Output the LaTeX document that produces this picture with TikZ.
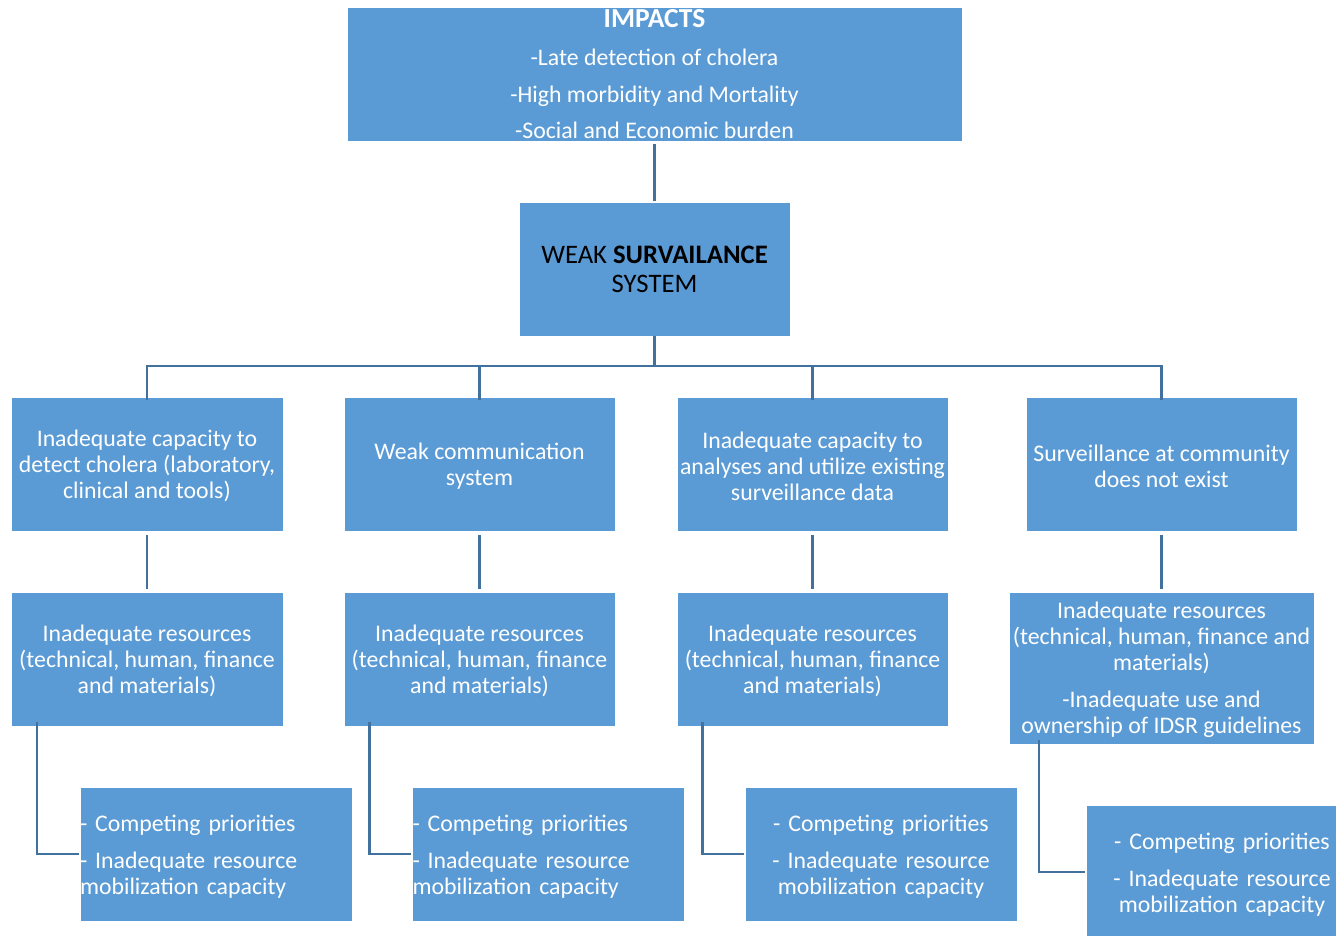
\documentclass[tikz,border=0pt]{standalone}
\usepackage{fontspec}
\setmainfont{Carlito}
\usetikzlibrary{positioning}
\definecolor{boxblue}{HTML}{5B9BD5}
\definecolor{linkblue}{HTML}{41719C}
% tall invisible strut that lowers a text block a little inside its box
\newcommand{\topstrut}{\rule{0pt}{20.5pt}}
\begin{document}
\begin{tikzpicture}[x=1pt,y=-1pt,
  box/.style={fill=boxblue,draw=white,line width=0.8pt,inner sep=0pt,
    text=white,align=center,minimum height=134pt,
    font=\fontsize{23.8}{26}\selectfont},
  lowered/.style={execute at begin node={\rule{0pt}{22pt}}},
  w/.style={minimum width=#1},
  leftbox/.style={box,lowered,text width=272pt,align=left},
  centbox/.style={box,lowered,text width=272pt,align=center},
  link/.style={draw=linkblue,line width=2.2pt},
]
\useasboundingbox (0,0) rectangle (1336,936);
\clip (0,0) rectangle (1336,936);

% top: impacts and core problem
\node[box,w=615pt] (imp) at (654.5,74)
  {{\fontsize{27.5}{26}\selectfont\textbf{IMPACTS}}\\[12pt]-Late detection of cholera\\[11pt]-High morbidity and Mortality\\[10.5pt]-Social and Economic burden};
\node[box,w=271pt,text=black,font=\fontsize{26.7}{29}\selectfont] (weak) at (654.5,269)
  {WEAK \textbf{SURVAILANCE}\\SYSTEM};

% second row: causes
\node[box,w=272pt] (c1) at (147,464) {\topstrut Inadequate capacity to\\detect cholera (laboratory,\\clinical and tools)};
\node[box,w=271pt] (c2) at (479.5,464) {\topstrut Weak communication\\system};
\node[box,w=271pt] (c3) at (812.5,464) {\topstrut Inadequate capacity to\\analyses and utilize existing\\surveillance data};
\node[box,w=271pt] (c4) at (1161.5,464) {\topstrut Surveillance at community\\does not exist};

% third row: resources
\node[box,w=272pt] (r1) at (147,659) {\topstrut Inadequate resources\\(technical, human, finance\\and materials)};
\node[box,w=271pt] (r2) at (479.5,659) {\topstrut Inadequate resources\\(technical, human, finance\\and materials)};
\node[box,w=271pt] (r3) at (812.5,659) {\topstrut Inadequate resources\\(technical, human, finance\\and materials)};
\node[box,w=305pt,minimum height=152pt] (r4) at (1161.5,668)
  {\topstrut Inadequate resources\\(technical, human, finance and\\materials)\\[11pt]-Inadequate use and\\ownership of IDSR guidelines};

% fourth row: root causes
\node[leftbox] (p1) at (216,854) {- Competing priorities\\[11pt]- Inadequate resource\\mobilization capacity};
\node[leftbox] (p2) at (548.5,854) {- Competing priorities\\[11pt]- Inadequate resource\\mobilization capacity};
\node[centbox] (p3) at (881,854) {- Competing priorities\\[11pt]- Inadequate resource\\mobilization capacity};
\node[centbox] (p4) at (1222,872) {- Competing priorities\\[11pt]- Inadequate resource\\mobilization capacity};

% connectors
\coordinate (bus) at (654.5,366);
\draw[link,shorten <=3pt,shorten >=1pt] (imp.south) -- (weak.north);
\draw[link] (weak.south) -- (bus);
\draw[link] (bus) -| ([yshift=-3pt]c1.north);
\draw[link] (bus) -| ([yshift=-3pt]c2.north);
\draw[link] (bus) -| ([yshift=-3pt]c3.north);
\draw[link] (bus) -| ([yshift=-3pt]c4.north);
\draw[link,shorten <=4pt,shorten >=3pt] (c1.south) -- (r1.north);
\draw[link,shorten <=4pt,shorten >=3pt] (c2.south) -- (r2.north);
\draw[link,shorten <=4pt,shorten >=3pt] (c3.south) -- (r3.north);
\draw[link,shorten <=4pt,shorten >=3pt] (c4.south) -- (r4.north);
\draw[link] ([xshift=-110pt,yshift=4pt]r1.south) |- ([xshift=-1pt]p1.west);
\draw[link] ([xshift=-110pt,yshift=4pt]r2.south) |- ([xshift=-1pt]p2.west);
\draw[link] ([xshift=-110pt,yshift=4pt]r3.south) |- ([xshift=-1pt]p3.west);
\draw[link] ([xshift=-122.5pt,yshift=4pt]r4.south) |- ([xshift=-1pt]p4.west);
\end{tikzpicture}
\end{document}
